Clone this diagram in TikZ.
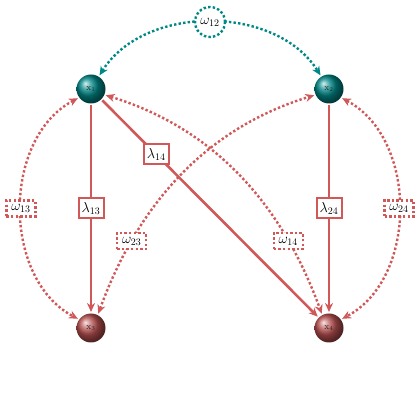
\documentclass[tikz,border=0pt]{standalone}
\usetikzlibrary{arrows.meta}
\definecolor{lred}{RGB}{208,88,88}
\definecolor{bred}{RGB}{185,80,80}
\definecolor{dteal}{RGB}{0,135,135}
\begin{document}
\begin{tikzpicture}[x=1pt,y=1pt,
  ballA/.style={circle, minimum size=29pt, inner sep=0pt, outer sep=1.5pt, ball color=dteal, text=black!85, font=\small},
  ballB/.style={circle, minimum size=29pt, inner sep=0pt, outer sep=1.5pt, ball color=bred, text=black!85, font=\small},
  dots/.style={line width=2.4pt, dash pattern=on 2.4pt off 2.2pt},
  tipA/.style={{Stealth[length=9pt,width=8pt]}-{Stealth[length=9pt,width=8pt]}},
  lam/.style={draw=lred, solid, line width=2pt, fill=white, text=black, inner sep=1pt, minimum width=25pt, minimum height=20pt, font=\Large},
  om/.style={draw=lred, dots, fill=white, text=black, inner sep=1pt, minimum width=29pt, minimum height=16pt, font=\Large},
  omc/.style={circle, draw=dteal, dots, fill=white, text=black, inner sep=0pt, minimum size=30pt, font=\Large},
  redline/.style={draw=lred, line width=2.6pt, -{Stealth[length=9pt,width=8pt]}},
  reddot/.style={draw=lred, dots, tipA},
  tealdot/.style={draw=dteal, dots, tipA}
]
\useasboundingbox (0,0) rectangle (420,420);
\node[ballA] (x1) at (91,331) {$\mathrm{x}_1$};
\node[ballA] (x2) at (329,331) {$\mathrm{x}_2$};
\node[ballB] (x3) at (91,92) {$\mathrm{x}_3$};
\node[ballB] (x4) at (329,92) {$\mathrm{x}_4$};

\draw[tealdot] (x1) to[out=58,in=122,distance=84pt] node[omc,midway]{$\omega_{12}$} (x2);
\draw[reddot] (x1.215) .. controls +(208:86pt) and +(152:86pt) .. node[om,midway]{$\omega_{13}$} (x3.145);
\draw[reddot] (x2.-35) .. controls +(-28:86pt) and +(28:86pt) .. node[om,midway]{$\omega_{24}$} (x4.35);
\draw[reddot] (x3.63) .. controls +(70:80pt) and +(197:140pt) .. node[om,pos=0.3]{$\omega_{23}$} (x2.203);
\draw[reddot] (x1.-23) .. controls +(-17:140pt) and +(110:80pt) .. node[om,pos=0.7]{$\omega_{14}$} (x4.117);

\draw[redline] (x1) -- node[lam,midway]{$\lambda_{13}$} (x3);
\draw[redline] (x2) -- node[lam,midway]{$\lambda_{24}$} (x4);
\draw[redline] (x1) -- node[lam,pos=0.25]{$\lambda_{14}$} (x4);
\end{tikzpicture}
\end{document}
